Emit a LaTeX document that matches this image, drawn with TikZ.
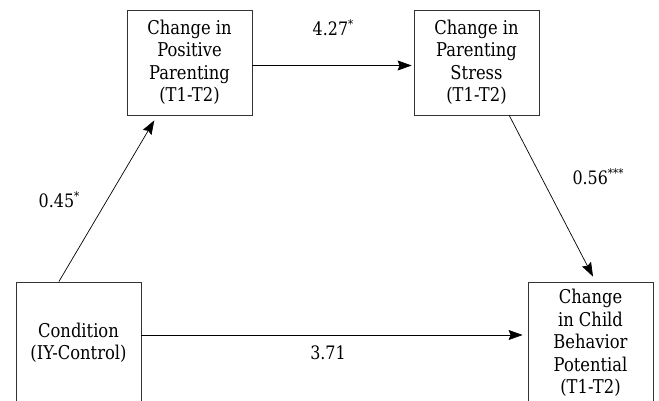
\documentclass[tikz,border=0pt]{standalone}
\usepackage{fontspec}
\setmainfont[FakeStretch=0.86]{DejaVu Serif}
\usetikzlibrary{arrows.meta,calc}
\newcommand{\supst}[1]{\raisebox{0.38em}{\fontsize{12}{12}\selectfont #1}}
\begin{document}
\begin{tikzpicture}[x=1pt,y=-1pt,
  box/.style={draw=black!80, line width=0.8pt, minimum width=125pt, align=center, inner sep=0pt, font=\fontsize{19}{22.5}\selectfont},
  conn/.style={line width=0.7pt, -{Stealth[length=14pt,width=10pt,inset=2pt]}},
  lab/.style={font=\fontsize{18.5}{20}\selectfont, inner sep=0pt}]
\useasboundingbox (0,0) rectangle (659,401);
\node[box, minimum height=105pt] (pp) at (189.5,62.5) {Change in\\Positive\\Parenting\\(T1-T2)};
\node[box, minimum height=105pt] (ps) at (476.5,62.5) {Change in\\Parenting\\Stress\\(T1-T2)};
\node[box, minimum height=122pt] (cond) at (78.5,343) {Condition\\(IY-Control)};
\node[box, minimum height=122pt] (cb) at (590.5,343) {Change\\in Child\\Behavior\\Potential\\(T1-T2)};
\draw[conn] ($(cond.north west)!0.344!(cond.north east)$) -- ($(pp.south west)!0.22!(pp.south east)+(0,5)$);
\draw[conn] ($(pp.east)+(0,3)$) -- ($(ps.west)+(-2,3)$);
\draw[conn] ($(ps.south west)!0.76!(ps.south east)$) -- ($(cb.north west)!0.52!(cb.north east)+(0,-5)$);
\draw[conn] ($(cond.east)+(0,-8)$) -- ($(cb.west)+(-5,-8)$);
\node[lab] (l1) at (333,28) {4.27\supst{*}};
\node[lab] (l2) at (59,200) {0.45\supst{*}};
\node[lab] (l3) at (598,177) {0.56\supst{***}};
\node[lab] (l4) at (328,353) {3.71};
\end{tikzpicture}
\end{document}
